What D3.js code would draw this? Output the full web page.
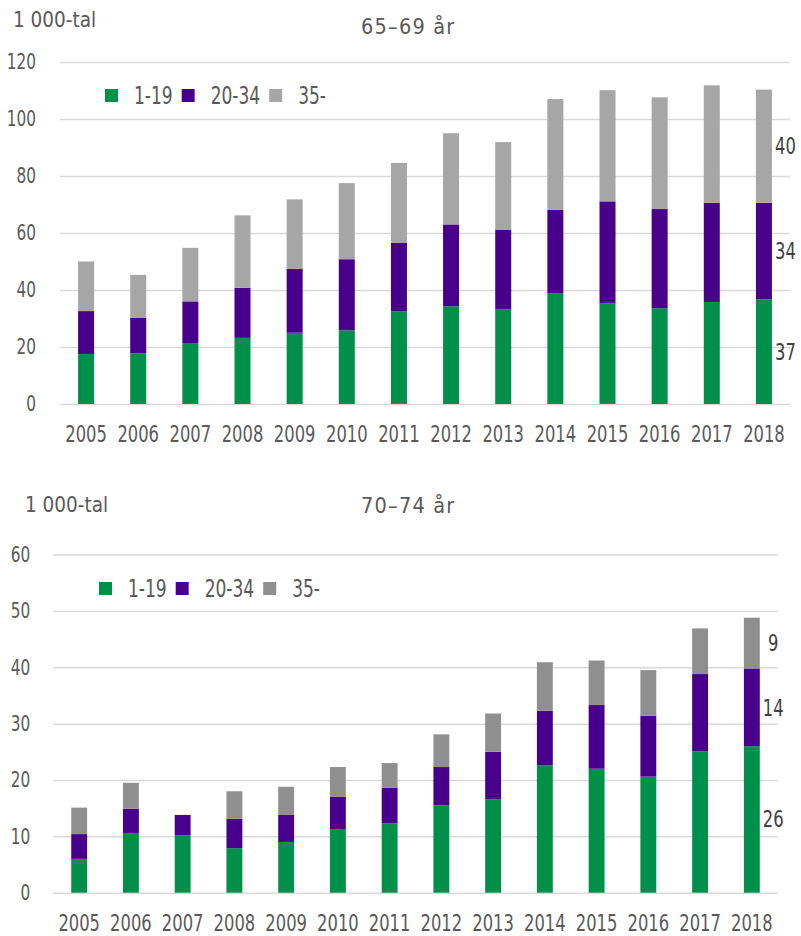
<!DOCTYPE html>
<html>
<head>
<meta charset="utf-8">
<script src="https://cdn.jsdelivr.net/npm/d3@7"></script>
<style>
  body { margin: 0; background: #fff; }
  svg text { font-family: "DejaVu Sans Condensed", "DejaVu Sans", sans-serif; font-stretch: condensed; }
</style>
</head>
<body>
<div id="chart"></div>
<script>
const years = ['2005', '2006', '2007', '2008', '2009', '2010', '2011',
  '2012', '2013', '2014', '2015', '2016', '2017', '2018'];
const ageGroups = ['1-19', '20-34', '35-'];

// 65–69 år, 1 000-tal
const young65 = [17.5, 17.8, 21.2, 23.2, 25.0, 25.8, 32.5, 34.3, 33.3, 38.9, 35.4, 33.6, 35.8, 36.7];
const mid65 = [15.1, 12.5, 14.8, 17.6, 22.4, 25.0, 24.0, 28.7, 27.9, 29.2, 35.7, 34.8, 34.8, 33.9];
const old65 = [17.4, 15.0, 18.8, 25.4, 24.4, 26.7, 28.1, 32.0, 30.7, 38.9, 39.0, 39.2, 41.2, 39.7];

// 70–74 år, 1 000-tal
const young70 = [6.0, 10.6, 10.2, 7.9, 9.0, 11.3, 12.3, 15.5, 16.6, 22.6, 22.0, 20.6, 25.1, 26.0];
const mid70 = [4.4, 4.3, 3.6, 5.2, 4.8, 5.7, 6.3, 6.8, 8.4, 9.7, 11.3, 10.8, 13.7, 13.7];
const old70 = [4.7, 4.6, 0, 4.9, 5.0, 5.3, 4.4, 5.8, 6.8, 8.6, 7.9, 8.1, 8.1, 9.1];

const yTicks65 = [0, 20, 40, 60, 80, 100, 120];
const yTicks70 = [0, 10, 20, 30, 40, 50, 60];

const width = 801;
const height = 936;
const squeezeK = 0.79; // the original face is narrower than anything installed

const svg = d3.select('#chart').append('svg')
  .attr('width', width)
  .attr('height', height);

// squeeze text horizontally, keeping its anchor point where it was
function squeeze (sel) {
  sel.each(function () {
    const t = d3.select(this);
    const x = +t.attr('x') || 0;
    t.attr('x', x / squeezeK).attr('transform', `scale(${squeezeK}, 1)`);
  });
}

function drawPanel (opts) {
  const g = svg.append('g');

  const rows = years.map((year, i) => ({
    year: year,
    '1-19': opts.series[0][i],
    '20-34': opts.series[1][i],
    '35-': opts.series[2][i]
  }));
  const stacked = d3.stack().keys(ageGroups)(rows);

  const x = d3.scaleBand()
    .domain(years)
    .range([opts.left, opts.right])
    .paddingInner(0.693)
    .paddingOuter(0.3465);

  const yMax = opts.ticks[opts.ticks.length - 1];
  const y = d3.scaleLinear()
    .domain([0, yMax])
    .range([opts.bottom, opts.top]);

  // gridlines + y labels
  const yAxis = g.append('g')
    .attr('transform', `translate(${opts.left}, 0)`)
    .call(d3.axisLeft(y)
      .tickValues(opts.ticks)
      .tickSize(-(opts.right - opts.left))
      .tickPadding(opts.tickPad));
  yAxis.select('.domain').remove();
  yAxis.selectAll('line').attr('stroke', '#d9d9d9').attr('stroke-width', 1.5);
  yAxis.selectAll('text')
    .attr('fill', '#595959')
    .attr('font-size', 21.5)
    .call(squeeze);

  // year labels
  const xAxis = g.append('g')
    .attr('transform', `translate(0, ${y(0)})`)
    .call(d3.axisBottom(x).tickSize(0).tickPadding(21.5));
  xAxis.select('.domain').remove();
  xAxis.selectAll('text')
    .attr('fill', '#595959')
    .attr('font-size', 23)
    .call(squeeze);

  // stacked bars
  g.selectAll('.layer')
    .data(stacked)
    .enter().append('g')
      .attr('class', 'layer')
      .attr('fill', (d, i) => opts.colors[i])
    .selectAll('rect')
    .data(d => d)
    .enter().append('rect')
      .attr('x', d => x(d.data.year))
      .attr('width', x.bandwidth())
      .attr('y', d => y(d[1]))
      .attr('height', d => y(d[0]) - y(d[1]));

  // value labels beside the last bar
  const lastYear = years[years.length - 1];
  g.selectAll('.end-label')
    .data(stacked)
    .enter().append('text')
      .attr('class', 'end-label')
      .attr('text-anchor', 'middle')
      .attr('dy', '0.35em')
      .attr('x', x(lastYear) + x.bandwidth() + 13.5)
      .attr('y', s => y((s[s.length - 1][0] + s[s.length - 1][1]) / 2))
      .attr('fill', '#404040')
      .attr('font-size', 23)
      .text(s => Math.round(s[s.length - 1][1] - s[s.length - 1][0]))
      .call(squeeze);

  // unit + title
  g.append('text')
    .attr('x', opts.unitX)
    .attr('y', opts.titleY - opts.unitDrop)
    .attr('fill', '#595959')
    .attr('font-size', 20.5)
    .text('1 000-tal');

  g.append('text')
    .attr('x', 361)
    .attr('y', opts.titleY)
    .attr('fill', '#595959')
    .attr('font-size', 21.5)
    .attr('letter-spacing', 1.2)
    .text(opts.title);

  // legend
  const legend = g.append('g');
  let cx = opts.legendX;
  ageGroups.forEach((key, i) => {
    legend.append('rect')
      .attr('x', cx)
      .attr('y', opts.legendY - 6.5)
      .attr('width', 13)
      .attr('height', 13)
      .attr('fill', opts.colors[i]);
    const t = legend.append('text')
      .attr('x', cx + 29)
      .attr('y', opts.legendY)
      .attr('dy', '0.35em')
      .attr('fill', '#595959')
      .attr('font-size', 24)
      .text(key)
      .call(squeeze);
    cx += 29 + t.node().getComputedTextLength() * squeezeK + 9;
  });
}

drawPanel({
  series: [young65, mid65, old65],
  ticks: yTicks65,
  colors: ['#00904a', '#48008c', '#a6a6a6'],
  left: 60,
  right: 790,
  top: 62,
  bottom: 404,
  tickPad: 24,
  title: '65–69 år',
  titleY: 34,
  unitX: 13,
  unitDrop: 7,
  legendX: 105,
  legendY: 95.5
});

drawPanel({
  series: [young70, mid70, old70],
  ticks: yTicks70,
  colors: ['#00904a', '#48008c', '#8f8f8f'],
  left: 53.3,
  right: 777.7,
  top: 554.6,
  bottom: 892.7,
  tickPad: 23,
  title: '70–74 år',
  titleY: 512.5,
  unitX: 25,
  unitDrop: 0.5,
  legendX: 99,
  legendY: 588.5
});
</script>
</body>
</html>
